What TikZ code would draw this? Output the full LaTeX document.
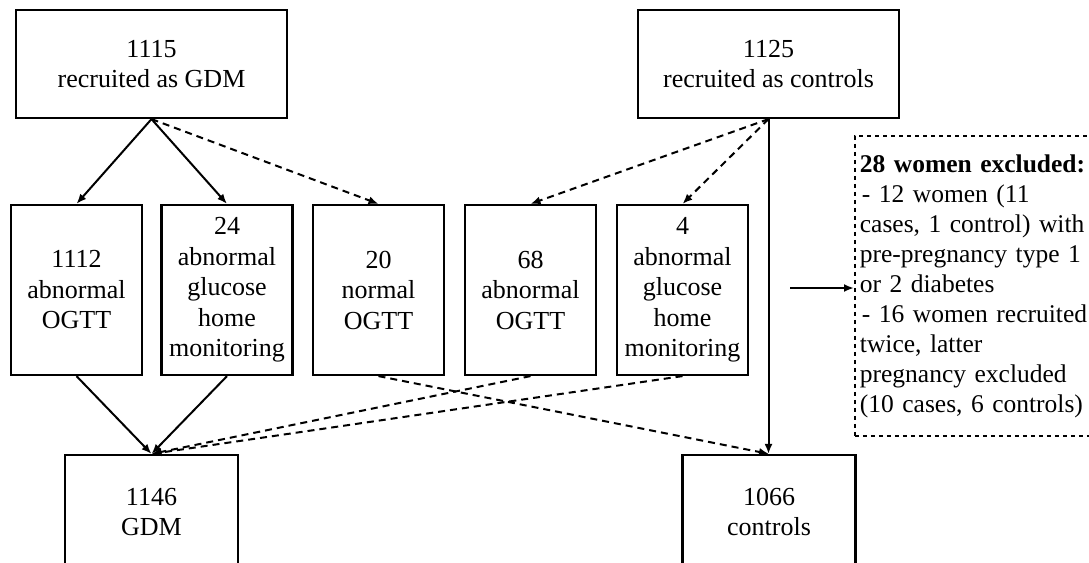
\documentclass[tikz,border=0pt]{standalone}
\usepackage{fontspec}
\setmainfont{Liberation Serif}
\usetikzlibrary{arrows.meta}
\begin{document}
\begin{tikzpicture}[x=1pt,y=-1pt,
  box/.style={draw, line width=2.2pt, align=center, inner sep=0pt, font=\fontsize{26}{30.5}\selectfont},
  midbox/.style={box, minimum width=131pt, minimum height=170pt},
  botbox/.style={box, minimum width=173pt, minimum height=114pt},
  arr/.style={line width=2pt, -{Latex[length=10pt,width=8pt]}},
  darr/.style={arr, dash pattern=on 7pt off 5pt},
]
\useasboundingbox (0,0) rectangle (1089,562);
\clip (0,0) rectangle (1089,562);
\node[box, minimum width=271pt, minimum height=108pt] (gdm0) at (151.5,64) {1115\\recruited as GDM};
\node[box, minimum width=261pt, minimum height=108pt] (ctl0) at (768.5,64) {1125\\recruited as controls};
\node[midbox] (b1) at (76.5,290) {1112\\abnormal\\OGTT};
\node[midbox] (b2) at (227,290) {24\\abnormal\\glucose\\home\\monitoring};
\node[midbox] (b3) at (378.5,290) {20\\normal\\OGTT};
\node[midbox] (b4) at (530.5,290) {68\\abnormal\\OGTT};
\node[midbox] (b5) at (682.5,290) {4\\abnormal\\glucose\\home\\monitoring};
\node[botbox] (gdm1) at (151.5,512) {1146\\GDM};
\node[botbox] (ctl1) at (769,512) {1066\\controls};
\node[draw, dash pattern=on 4pt off 4pt, line width=1.8pt, align=left, text width=240pt, inner xsep=5pt, inner ysep=0pt, minimum height=300pt, anchor=north west, font=\fontsize{25.5}{30}\selectfont] (excl) at (854,135)
  {\textbf{28 women excluded:}\\\hspace*{2pt}- 12 women (11\\cases, 1 control) with\\pre-pregnancy type 1\\or 2 diabetes\\\hspace*{2pt}- 16 women recruited\\twice, latter\\pregnancy excluded\\(10 cases, 6 controls)};
\coordinate (harr) at (790,288);
% arrows
\draw[arr] (gdm0.south) -- (b1.north);
\draw[arr] (gdm0.south) -- (b2.north);
\draw[darr] (gdm0.south) -- (b3.north);
\draw[darr] (ctl0.south) -- (b4.north);
\draw[darr] (ctl0.south) -- (b5.north);
\draw[arr] (ctl0.south) -- (ctl0.south |- ctl1.north);
\draw[arr] (b1.south) -- (gdm1.north);
\draw[arr] (b2.south) -- (gdm1.north);
\draw[darr] (b4.south) -- (gdm1.north);
\draw[darr] (b5.south) -- (gdm1.north);
\draw[darr] (b3.south) -- (ctl1.north);
\draw[arr] (harr) -- (harr -| excl.west);
\end{tikzpicture}
\end{document}
